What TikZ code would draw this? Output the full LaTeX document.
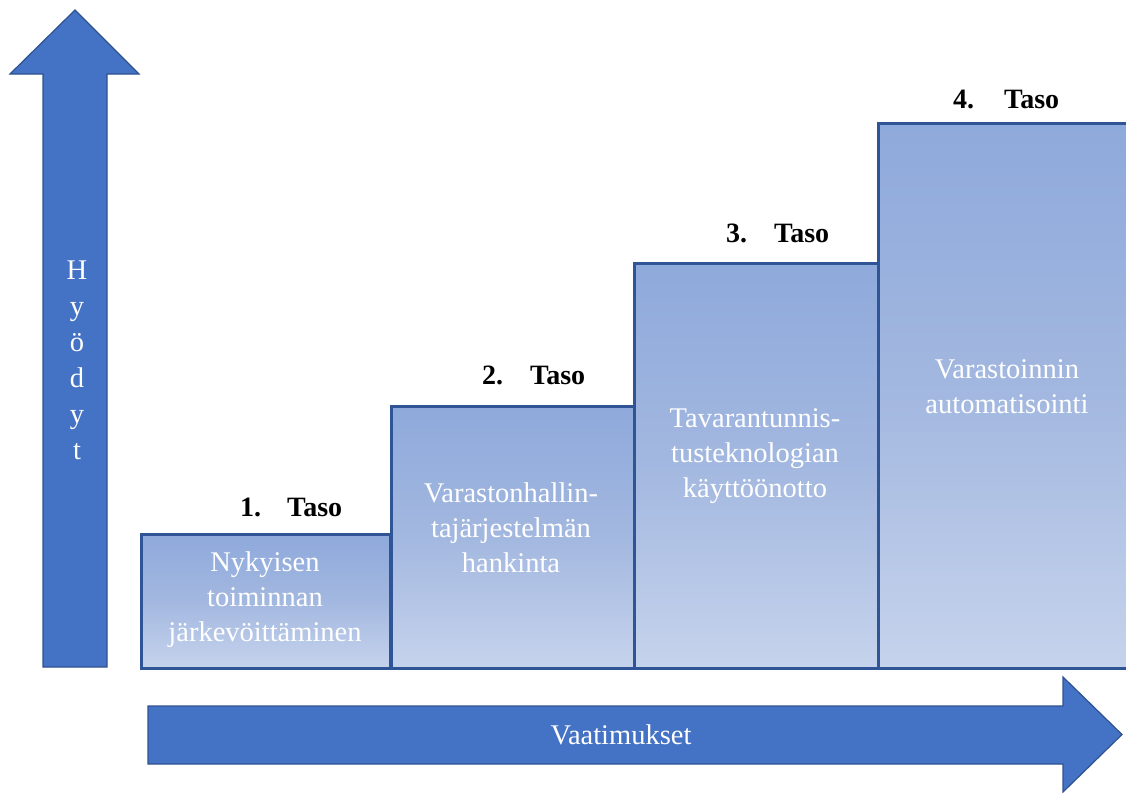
\documentclass[tikz,border=0pt]{standalone}
\usepackage{fontspec}
\setmainfont{Liberation Serif}
\begin{document}
\begin{tikzpicture}[x=1pt,y=-1pt,
  bigarrow/.style={fill=arrowblue,draw=arrowedge,line width=1.2pt,line join=miter},
  lvlbox/.style={draw=boxedge,line width=3pt,top color=boxtop,bottom color=boxbot,
     middle color=boxmid,shading angle=0,inner sep=0pt,anchor=north west},
  boxtext/.style={text=white,align=center,font=\fontsize{28.5}{35}\selectfont},
  lvllabel/.style={anchor=west,font=\fontsize{28}{32}\selectfont\bfseries,inner sep=0pt},
  axistext/.style={text=white,align=center,font=\fontsize{28.5}{36}\selectfont}]
\definecolor{arrowblue}{HTML}{4472C4}
\definecolor{arrowedge}{HTML}{2F528F}
\definecolor{boxedge}{HTML}{2F5597}
\definecolor{boxtop}{HTML}{8EA9DB}
\definecolor{boxmid}{HTML}{A3B8E0}
\definecolor{boxbot}{HTML}{C6D3EC}
\clip (0,0) rectangle (1126,792);
\fill[white] (0,0) rectangle (1126,792);
% vertical arrow
\draw[bigarrow] (75,10) -- (139,74) -- (107,74) -- (107,667) -- (43,667) -- (43,74) -- (10,74) -- cycle;
\node[axistext] (hy) at (77,360) {H\\y\\ö\\d\\y\\t};
% horizontal arrow
\draw[bigarrow] (148,706) -- (1063,706) -- (1063,677) -- (1122,734.5) -- (1063,792) -- (1063,764) -- (148,764) -- cycle;
\node[axistext] (va) at (621,735) {Vaatimukset};
% level boxes
\node[lvlbox,minimum width=249pt,minimum height=134pt] (b1) at (140,533) {};
\node[lvlbox,minimum width=243pt,minimum height=262pt] (b2) at (390,405) {};
\node[lvlbox,minimum width=244pt,minimum height=405pt] (b3) at (633,262) {};
\node[lvlbox,minimum width=270pt,minimum height=545pt] (b4) at (877,122) {};
% box texts
\node[boxtext] (t1) at (265,600) {Nykyisen\\toiminnan\\järkevöittäminen};
\node[boxtext] (t2) at (511,528) {Varastonhallin-\\tajärjestelmän\\hankinta};
\node[boxtext] (t3) at (755,456) {Tavarantunnis-\\tusteknologian\\käyttöönotto};
\node[boxtext] (t4) at (1007,387) {Varastoinnin\\automatisointi};
% level labels
\node[lvllabel] (l1) at (240,507) {1.\hspace{26pt}Taso};
\node[lvllabel] (l2) at (482,375) {2.\hspace{27pt}Taso};
\node[lvllabel] (l3) at (726,233) {3.\hspace{27pt}Taso};
\node[lvllabel] (l4) at (953,99) {4.\hspace{30pt}Taso};
\end{tikzpicture}
\end{document}
